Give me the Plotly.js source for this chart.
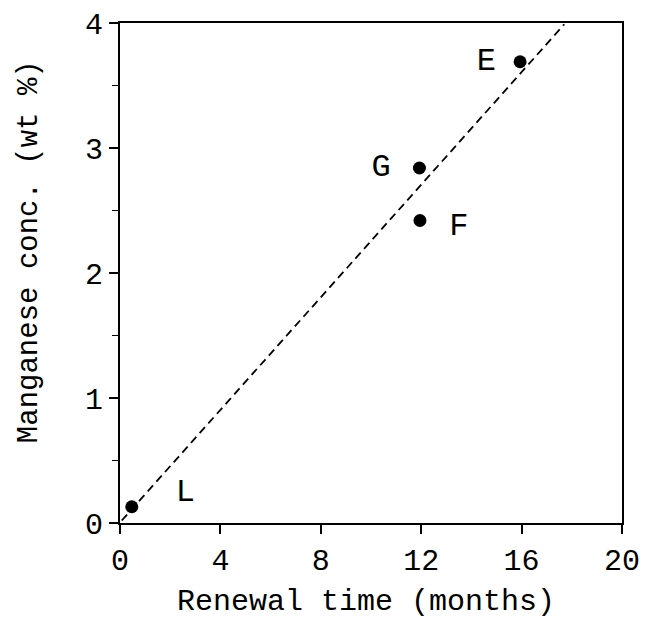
<!DOCTYPE html>
<html><head><meta charset="utf-8">
<script src="https://cdn.plot.ly/plotly-3.0.1.min.js"></script>
<style>html,body{margin:0;padding:0;background:#fff}#chart{width:656px;height:622px}</style>
</head><body><div id="chart"></div>
<script>
const sampleLabels = ["L", "G", "F", "E"];
const renewalMonths = [0.47, 11.93, 11.95, 15.94];
const manganeseWt = [0.13, 2.84, 2.42, 3.69];
const labelX = [2.6, 10.4, 13.5, 14.6];
const labelY = [0.24, 2.84, 2.37, 3.69];
const fitX = [0.07, 17.7];
const fitY = [0.02, 3.99];
const xTicks = [0, 4, 8, 12, 16, 20];
const yTicks = [0, 1, 2, 3, 4];
const xTitle = "Renewal time (months)";
const yTitle = "Manganese conc. (wt %)";

const font = "Liberation Mono, monospace";
const traces = [
  {x: fitX, y: fitY, mode: "lines", line: {color: "#000", width: 1.8, dash: "8px,5px"}, hoverinfo: "skip"},
  {x: renewalMonths, y: manganeseWt, mode: "markers", marker: {color: "#000", size: 13}},
  {x: labelX, y: labelY, mode: "text", text: sampleLabels, textposition: "middle center",
   textfont: {family: font, size: 32, color: "#000"}}
];
const layout = {
  width: 656, height: 622, showlegend: false,
  paper_bgcolor: "#fff", plot_bgcolor: "#fff",
  margin: {l: 120, r: 34, t: 23, b: 99},
  font: {family: font, color: "#000"},
  xaxis: {range: [0, 20], tickvals: xTicks, ticks: "outside", ticklen: 9, tickwidth: 2, tickcolor: "#000",
    showline: true, linewidth: 2, linecolor: "#000", mirror: true, showgrid: false, zeroline: false,
    tickfont: {family: font, size: 30}},
  yaxis: {range: [0, 4], tickvals: yTicks, ticks: "outside", ticklen: 9, tickwidth: 2, tickcolor: "#000",
    showline: true, linewidth: 2, linecolor: "#000", mirror: true, showgrid: false, zeroline: false,
    minor: {dtick: 0.5, ticks: "outside", ticklen: 6, tickwidth: 1.5, tickcolor: "#000", showgrid: false},
    tickfont: {family: font, size: 30}},
  annotations: [
    {text: xTitle, xref: "paper", yref: "paper", x: 0.49, y: -0.158, xanchor: "center", yanchor: "middle",
     showarrow: false, font: {family: font, size: 30, color: "#000"}},
    {text: yTitle, xref: "paper", yref: "paper", x: -0.179, y: 0.542, xanchor: "center", yanchor: "middle",
     textangle: -90, showarrow: false, font: {family: font, size: 29, color: "#000"}}
  ]
};
Plotly.newPlot("chart", traces, layout, {staticPlot: true});
</script></body></html>
